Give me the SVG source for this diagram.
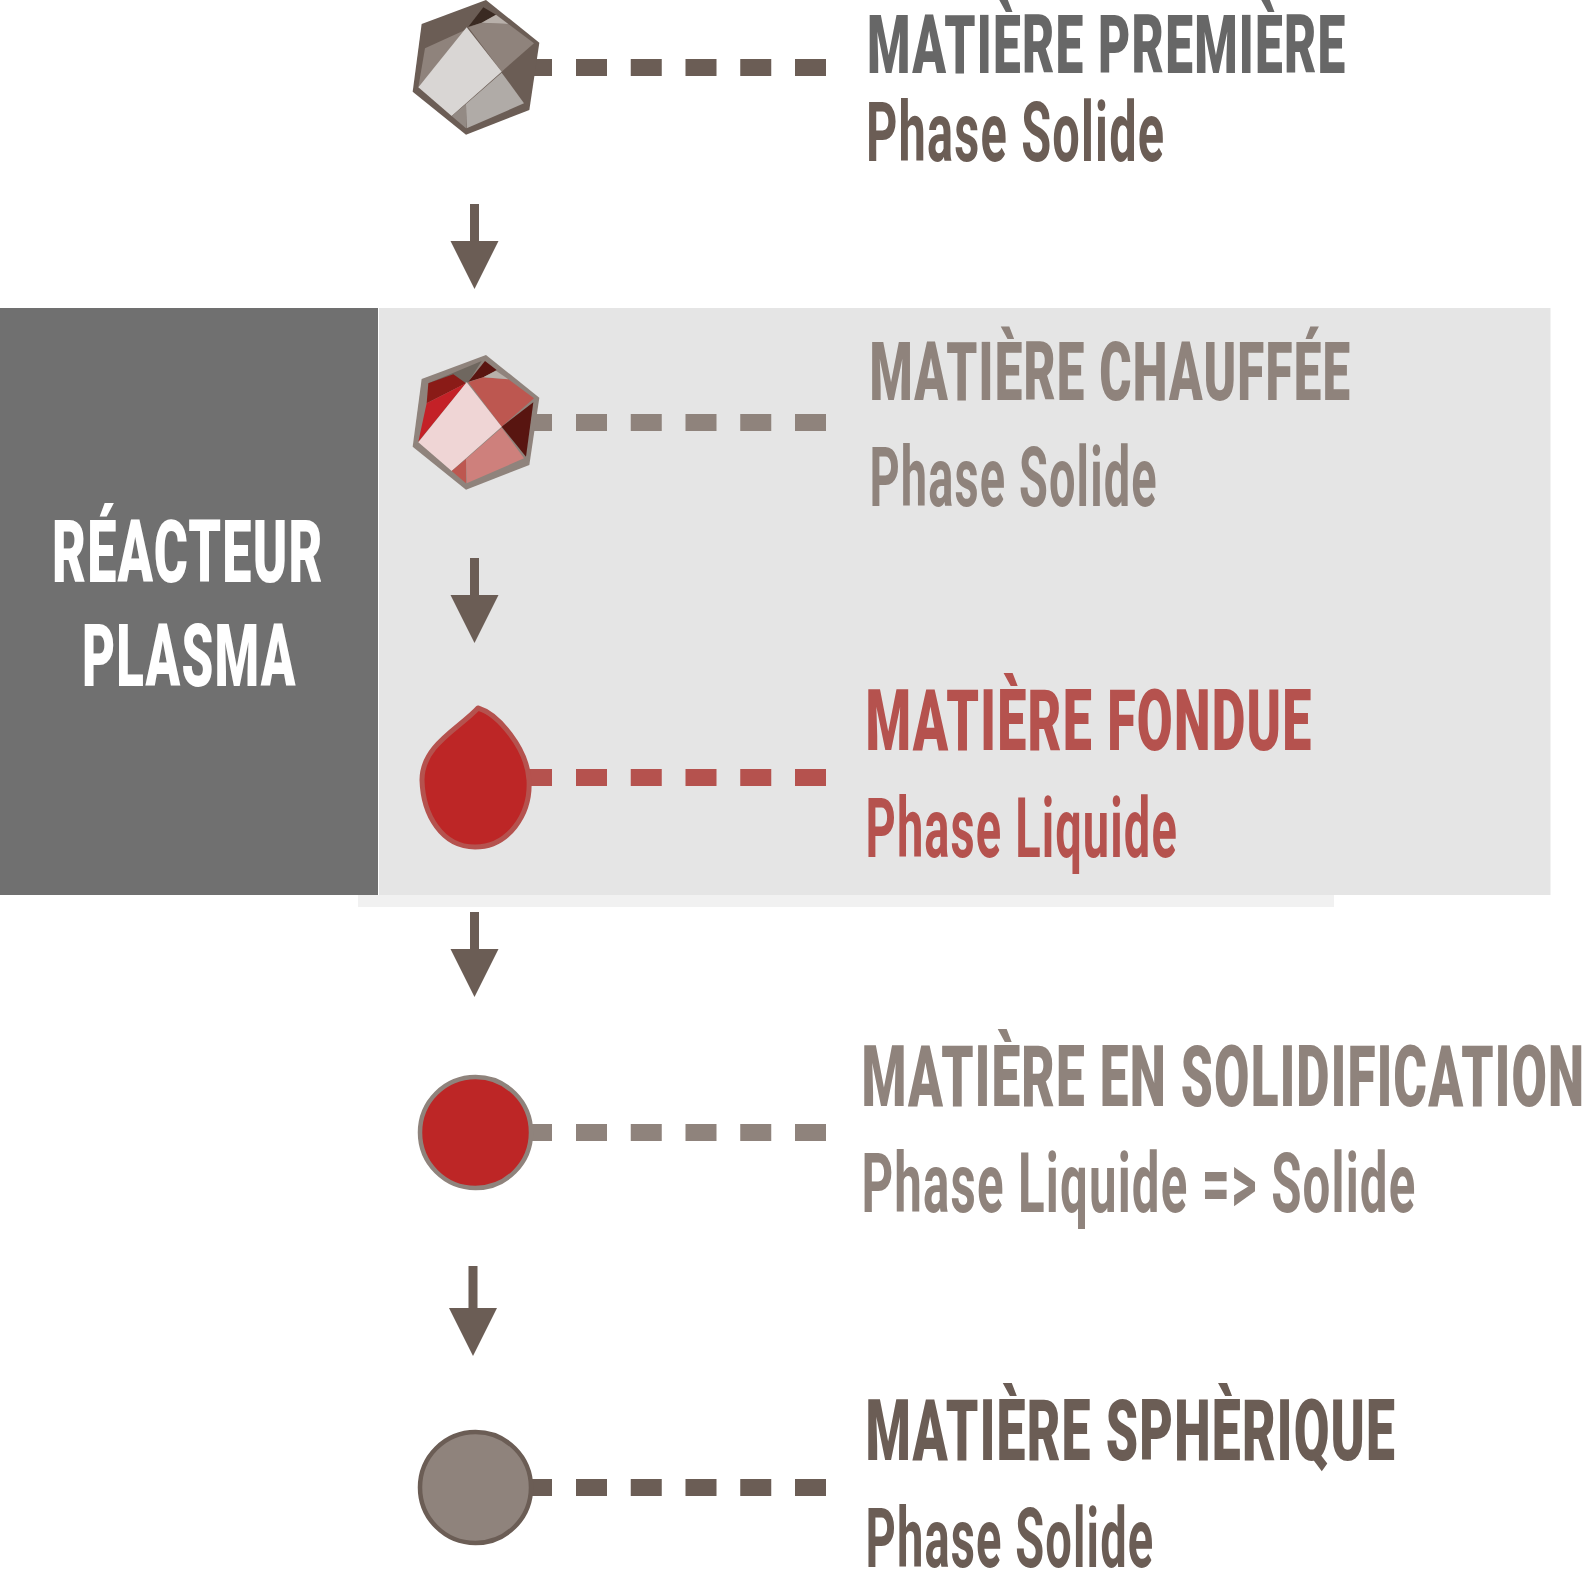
<svg xmlns="http://www.w3.org/2000/svg" width="1586" height="1589" viewBox="0 0 1586 1589">
<style>
text{font-family:Roboto,"Liberation Sans",Arial,sans-serif;font-weight:900;letter-spacing:2px}
.h1{font-size:81px}
.h2{font-size:86px}
.h3{font-size:87px}
.p{font-weight:700;font-size:84px}
.w{fill:#fff}
.g{fill:#676767}
.b{fill:#6b5d55}
.t{fill:#8f837c}
.r{fill:#b5524e}
.sb{stroke:#6b5d55}
.st{stroke:#8f837c}
.sr{stroke:#b5524e}
.stub{fill:none;stroke-width:17}
.dash{fill:none;stroke-width:17;stroke-dasharray:31 23.75}
.arr{fill:#6b5d55}
</style>
<defs>
<g id="arrow"><rect x="-4.500" y="0" width="9" height="42"/><polygon points="-24,37 24,37 0,85"/></g>
<g id="arrow2"><rect x="-4.500" y="0" width="9" height="46"/><polygon points="-24,42 24,42 0,90"/></g>
</defs>
<g id="reactor">
<rect x="358" y="895" width="976" height="12" fill="#f1f1f1"/>
<rect x="379" y="308" width="1171.500" height="587" fill="#e5e5e5"/>
<rect x="0" y="308" width="378" height="587" fill="#707070"/>
<text class="h3 w" transform="translate(52 581.500) scale(.55 1)" textLength="494" lengthAdjust="spacingAndGlyphs">RÉACTEUR</text>
<text class="h3 w" transform="translate(82 686) scale(.55 1)" textLength="390" lengthAdjust="spacingAndGlyphs">PLASMA</text>
</g>
<g id="connectors">
<g class="sb"><path class="stub" d="M530 67.500H552"/><path class="dash" d="M576 67.500H826"/></g>
<g class="st"><path class="stub" d="M530 422.500H552"/><path class="dash" d="M576 422.500H826"/></g>
<g class="sr"><path class="stub" d="M525 777.500H552"/><path class="dash" d="M576 777.500H826"/></g>
<g class="st"><path class="stub" d="M525 1132.500H552"/><path class="dash" d="M576 1132.500H826"/></g>
<g class="sb"><path class="stub" d="M525 1487.500H552"/><path class="dash" d="M576 1487.500H826"/></g>
<use href="#arrow" class="arr" x="474.500" y="204"/>
<use href="#arrow" class="arr" x="474.500" y="558"/>
<use href="#arrow" class="arr" x="474.500" y="912"/>
<use href="#arrow2" class="arr" x="473" y="1266"/>
</g>
<g id="n1">
<g transform="translate(400 0) scale(.33333)">
<polygon points="258,0 418,128 388,330 198,404 38,275 65,72" fill="#6b5d55"/>
<polygon points="200,88 75,145 55,262" fill="#8f837c"/>
<polygon points="205,80 250,22 288,44 245,68" fill="#3a2a22"/>
<polygon points="205,82 245,68 325,72 402,130 305,215" fill="#8f837c"/>
<polygon points="245,68 288,44 325,72" fill="#b8b0aa"/>
<polygon points="200,82 305,215 155,348 55,262" fill="#d9d6d4"/>
<polygon points="305,218 372,310 200,385 198,312" fill="#b0aba7"/>
<polygon points="198,312 155,348 198,385" fill="#938a84"/>
</g>
</g>
<g id="n1-label">
<text class="h1 g" transform="translate(867 72.500) scale(.55 1)" textLength="872" lengthAdjust="spacingAndGlyphs">MATIÈRE PREMIÈRE</text>
<text class="p b" transform="translate(866 161) scale(.55 1)" textLength="544" lengthAdjust="spacingAndGlyphs">Phase Solide</text>
</g>
<g id="n2">
<g transform="translate(400 355) scale(.33333)">
<polygon points="258,0 418,128 388,330 198,404 38,275 65,72" fill="#8f837c"/>
<polygon points="85,85 245,18 205,82" fill="#6f675f"/>
<polygon points="85,85 160,58 198,85 80,145" fill="#8a1b17"/>
<polygon points="80,145 198,85 55,260" fill="#c42127"/>
<polygon points="205,80 255,18 290,45 250,67" fill="#5a1410"/>
<polygon points="205,82 250,67 325,73 402,130 305,215" fill="#bd5750"/>
<polygon points="250,67 288,47 325,73" fill="#b8b0aa"/>
<polygon points="305,215 400,142 378,305" fill="#581510"/>
<polygon points="200,82 305,215 155,348 55,262" fill="#efd5d5"/>
<polygon points="305,218 372,310 200,385 198,312" fill="#ce807c"/>
<polygon points="198,312 155,348 198,385" fill="#bd5750"/>
</g>
</g>
<g id="n2-label">
<text class="h1 t" transform="translate(869.500 400) scale(.55 1)" textLength="876" lengthAdjust="spacingAndGlyphs">MATIÈRE CHAUFFÉE</text>
<text class="p t" transform="translate(869.500 506) scale(.55 1)" textLength="524" lengthAdjust="spacingAndGlyphs">Phase Solide</text>
</g>
<g id="n3">
<path d="M478 708C498 714 527 748 529 780C531 815 508 847 475 847C442 847 423 815 422 780C422 745 460 728 478 708Z" fill="#bd2626" stroke="#b5524e" stroke-width="5" stroke-linejoin="round"/>
</g>
<g id="n3-label">
<text class="h2 r" transform="translate(865.500 750) scale(.55 1)" textLength="813" lengthAdjust="spacingAndGlyphs">MATIÈRE FONDUE</text>
<text class="p r" transform="translate(865.500 857) scale(.55 1)" textLength="568" lengthAdjust="spacingAndGlyphs">Phase Liquide</text>
</g>
<g id="n4">
<circle cx="475.500" cy="1132.500" r="55.500" fill="#bd2626" stroke="#8f837c" stroke-width="4.500"/>
</g>
<g id="n4-label">
<text class="h2 t" transform="translate(861.500 1105.500) scale(.55 1)" textLength="1316" lengthAdjust="spacingAndGlyphs">MATIÈRE EN SOLIDIFICATION</text>
<text class="p t" transform="translate(861.500 1212) scale(.55 1)" textLength="1009" lengthAdjust="spacingAndGlyphs">Phase Liquide =&gt; Solide</text>
</g>
<g id="n5">
<circle cx="475.500" cy="1487.500" r="55.500" fill="#8f837c" stroke="#6b5d55" stroke-width="4.500"/>
</g>
<g id="n5-label">
<text class="h2 b" transform="translate(865.500 1460) scale(.55 1)" textLength="965" lengthAdjust="spacingAndGlyphs">MATIÈRE SPHÈRIQUE</text>
<text class="p b" transform="translate(865.500 1567) scale(.55 1)" textLength="525" lengthAdjust="spacingAndGlyphs">Phase Solide</text>
</g>
</svg>
